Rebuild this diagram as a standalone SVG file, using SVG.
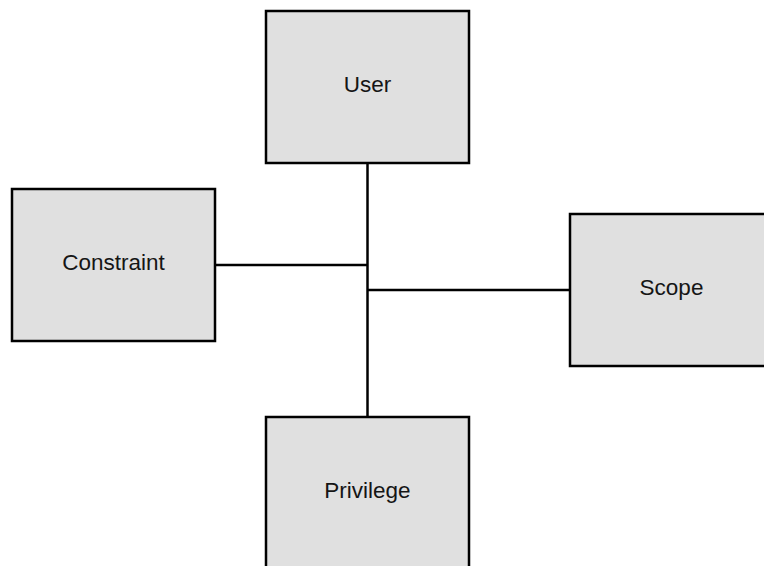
<svg xmlns="http://www.w3.org/2000/svg" width="764" height="566" viewBox="0 0 764 566">
  <style>
    .box { fill: #e0e0e0; stroke: #000; stroke-width: 2.5; }
    .label { font-family: "Liberation Sans", Arial, sans-serif; font-size: 22.5px; fill: #151515; text-anchor: middle; }
    .wire { stroke: #000; stroke-width: 2.5; fill: none; }
  </style>
  <rect width="764" height="566" fill="#fff"/>
  <g id="connectors">
    <line class="wire" x1="367.5" y1="163" x2="367.5" y2="417"/>
    <line class="wire" x1="215" y1="265" x2="367.5" y2="265"/>
    <line class="wire" x1="367.5" y1="290" x2="570" y2="290"/>
  </g>
  <g id="user">
    <rect class="box" x="266" y="11" width="203" height="152"/>
    <text class="label" x="367.5" y="92">User</text>
  </g>
  <g id="constraint">
    <rect class="box" x="12" y="189" width="203" height="152"/>
    <text class="label" x="113.5" y="270">Constraint</text>
  </g>
  <g id="scope">
    <rect class="box" x="570" y="214" width="203" height="152"/>
    <text class="label" x="671.5" y="295">Scope</text>
  </g>
  <g id="privilege">
    <rect class="box" x="266" y="417" width="203" height="152"/>
    <text class="label" x="367.5" y="498">Privilege</text>
  </g>
</svg>
